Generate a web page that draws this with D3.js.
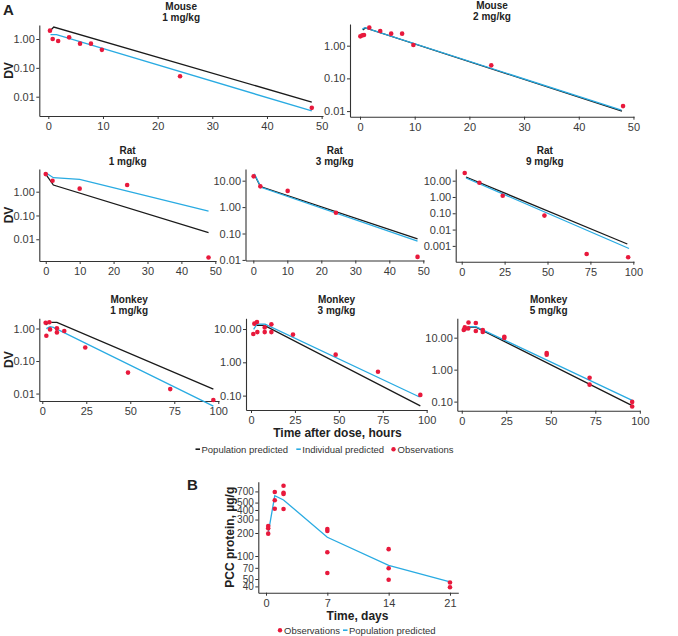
<!DOCTYPE html>
<html><head><meta charset="utf-8">
<script src="https://cdn.jsdelivr.net/npm/d3@7"></script>
<style>
body{margin:0;background:#fff}
svg{display:block}
text{font-family:"Liberation Sans",Arial,Helvetica,sans-serif}
</style>
</head><body>
<svg id="chart" width="678" height="636"></svg>
<script>
// ---------------- DATA ----------------
const species = ["Mouse","Mouse","Rat","Rat","Rat","Monkey","Monkey","Monkey"];
const doses   = ["1 mg/kg","2 mg/kg","1 mg/kg","3 mg/kg","9 mg/kg","1 mg/kg","3 mg/kg","5 mg/kg"];

// [time (h), DV]
const mouse1Obs = [[0.3,1.95],[0.8,1.0],[1.8,0.85],[3.8,1.14],[5.8,0.69],[7.8,0.69],[9.8,0.42],[24.1,0.051],[48.2,0.0041]];
const mouse1Pop = [[0.3,1.9],[1.0,2.6],[48.2,0.0065]];
const mouse1Ind = [[0.4,1.41],[1.5,1.41],[48.2,0.0032]];

const mouse2Obs = [[0.06,1.93],[0.43,2.07],[0.73,2.12],[1.7,3.56],[3.7,2.81],[5.7,2.33],[7.7,2.33],[9.76,1.05],[24.0,0.25],[48.1,0.0142]];
const mouse2Pop = [[0.5,3.0],[1.0,3.47],[47.9,0.010]];
const mouse2Ind = [[0.4,3.17],[0.85,3.55],[47.8,0.0107]];

const rat1Obs = [[0,5.5],[2,2.9],[10,1.34],[24,1.9],[48,0.0017]];
const rat1Pop = [[0,5.5],[2.25,1.9],[48,0.019]];
const rat1Ind = [[0,6.3],[2.25,3.87],[10,3.3],[48,0.154]];

const rat3Obs = [[0.1,14.6],[2.06,6.1],[10.1,4.1],[24.3,0.61],[48.3,0.013]];
const rat3Pop = [[0.3,17],[2.1,6.0],[48.3,0.063]];
const rat3Ind = [[0.3,18.3],[2.25,5.6],[48.3,0.051]];

const rat9Obs = [[1.75,29.5],[10.3,7.5],[23.9,1.2],[48.2,0.072],[72.8,0.00032],[97,0.0002]];
const rat9Pop = [[2.5,16.8],[96.5,0.0013]];
const rat9Ind = [[2.5,14.6],[97.5,0.00069]];

const monkey1Obs = [[1.9,1.51],[4.0,1.55],[2.3,0.60],[4.4,0.94],[8.3,1.01],[8.3,0.76],[12.5,0.84],[24.4,0.26],[48.7,0.044],[72.7,0.0137],[97.2,0.0063]];
const monkey1Pop = [[1.9,1.28],[4,1.55],[8.3,1.55],[97.2,0.0137]];
const monkey1Ind = [[2.3,0.99],[4.4,1.14],[6.3,1.08],[97.2,0.0041]];

const monkey3Obs = [[1.3,7.1],[1.9,14.5],[3.4,16.2],[3.6,8.1],[7.8,11.2],[7.8,8.1],[11.6,13.8],[11.6,8.1],[23.9,6.8],[48.2,1.7],[72.3,0.52],[96.4,0.105]];
const monkey3Pop = [[3,12.9],[7.6,12.9],[96.4,0.049]];
const monkey3Ind = [[1.5,9.8],[3.4,14.1],[8,14.1],[96,0.091]];

const monkey5Obs = [[1.1,17.4],[1.7,21],[1.7,19],[3.8,30],[3.6,19.5],[7.9,28.7],[7.9,16.2],[11.8,17.4],[11.8,15],[23.9,10.7],[23.9,9.8],[47.7,3.3],[47.7,2.94],[71.8,0.56],[71.8,0.34],[95.7,0.098],[95.7,0.07]];
const monkey5Pop = [[1.3,17.4],[3.8,21.5],[7.9,21.5],[95.7,0.075]];
const monkey5Ind = [[1.5,16.2],[4.1,22.1],[7.9,22.1],[95.7,0.11]];

const xTicks50  = [0,10,20,30,40,50];
const xTicks100 = [0,25,50,75,100];
const yTicksMouse  = [1,0.1,0.01];
const yTicksRat3   = [10,1,0.1,0.01];
const yTicksRat9   = [10,1,0.1,0.01,0.001];
const yTicksMonkey = [10,1,0.1];

// Panel B
const pccObsDays   = [0.25,0.25,0.25,1,1,1,2,2,2,2,7,7,7,7,14,14,14,21,21];
const pccObsValues = [247,230,196,687,536,416,832,673,648,412,226,212,112,60,123,69,49,45,39];
const pccPredDays   = [0.25,1,2,7,14,21];
const pccPredValues = [198,615,541,176,75.5,46];
const bXTicks = [0,7,14,21];
const bYTicks = [40,50,70,100,200,300,400,500,700];

// ---------------- LAYOUT ----------------
const panels = [
  {obs:mouse1Obs, pop:mouse1Pop, ind:mouse1Ind, box:[39.3,323,25,116],   xDom:[-1.65,50.25], yDom:[0.00214,3.06], xt:xTicks50,  yt:yTicksMouse, dv:true},
  {obs:mouse2Obs, pop:mouse2Pop, ind:mouse2Ind, box:[350,634,24,116.7],  xDom:[-1.83,50.1],  yDom:[0.00674,4.6],  xt:xTicks50,  yt:yTicksMouse, dv:false},
  {obs:rat1Obs,   pop:rat1Pop,   ind:rat1Ind,   box:[39.3,216,169,261],  xDom:[-1.9,50.2],   yDom:[0.00122,9.0],  xt:xTicks50,  yt:yTicksMouse, dv:true},
  {obs:rat3Obs,   pop:rat3Pop,   ind:rat3Ind,   box:[245.5,424,169,260.5],xDom:[-2.3,50.2],  yDom:[0.0095,27.7],  xt:xTicks50,  yt:yTicksRat3,  dv:false},
  {obs:rat9Obs,   pop:rat9Pop,   ind:rat9Ind,   box:[455.7,634,169,261.7],xDom:[-3.5,100.4], yDom:[0.000107,52],  xt:xTicks100, yt:yTicksRat9,  dv:false},
  {obs:monkey1Obs,pop:monkey1Pop,ind:monkey1Ind,box:[39.3,219,318.3,401],xDom:[-1.7,100.4],  yDom:[0.0059,2.06],  xt:xTicks100, yt:yTicksMouse, dv:true},
  {obs:monkey3Obs,pop:monkey3Pop,ind:monkey3Ind,box:[246,427,318.3,410], xDom:[-2.85,100.2], yDom:[0.037,21],     xt:xTicks100, yt:yTicksMonkey,dv:false},
  {obs:monkey5Obs,pop:monkey5Pop,ind:monkey5Ind,box:[457.3,640,318.3,410.7],xDom:[-2.5,100.1],yDom:[0.052,40.4], xt:xTicks100, yt:yTicksMonkey,dv:false}
];

const RED = "#e8193c", BLUE = "#29abe2", BLACK = "#1a1a1a", AXIS = "#333";
const svg = d3.select("#chart");

function fmtDV(v){ return v >= 0.01 ? v.toFixed(2) : v.toFixed(3); }

function styleAxis(sel, fs){
  sel.select(".domain").attr("stroke", AXIS).attr("stroke-width", 1.1);
  sel.selectAll(".tick line").attr("stroke", AXIS).attr("stroke-width", 1);
  sel.selectAll(".tick text").attr("fill", "#3a3a3a").attr("font-size", fs)
     .attr("font-family", '"Liberation Sans",Arial,sans-serif');
}

panels.forEach((p, i) => {
  const [l, r, t, b] = p.box;
  const x = d3.scaleLinear().domain(p.xDom).range([l, r]);
  const y = d3.scaleLog().domain(p.yDom).range([b, t]);
  const g = svg.append("g");

  const gx = g.append("g").attr("transform", `translate(0,${b})`)
    .call(d3.axisBottom(x).tickValues(p.xt).tickSize(3).tickSizeOuter(0).tickPadding(3.5).tickFormat(d3.format("d")));
  styleAxis(gx, 11);
  const gy = g.append("g").attr("transform", `translate(${l},0)`)
    .call(d3.axisLeft(y).tickValues(p.yt).tickSize(3).tickSizeOuter(0).tickPadding(1.5).tickFormat(fmtDV));
  styleAxis(gy, 11);

  const line = d3.line().x(d => x(d[0])).y(d => y(d[1]));
  g.append("path").datum(p.pop).attr("d", line).attr("fill","none").attr("stroke",BLACK).attr("stroke-width",1.3);
  g.append("path").datum(p.ind).attr("d", line).attr("fill","none").attr("stroke",BLUE).attr("stroke-width",1.3);
  g.selectAll("circle").data(p.obs).join("circle")
    .attr("cx", d => x(d[0])).attr("cy", d => y(d[1])).attr("r", 2.3).attr("fill", RED);

  const cx = (l + r) / 2;
  g.append("text").attr("x", cx).attr("y", t - 15.5).attr("text-anchor","middle")
    .attr("font-size",10).attr("font-weight","bold").attr("fill","#222").text(species[i]);
  g.append("text").attr("x", cx).attr("y", t - 4).attr("text-anchor","middle")
    .attr("font-size",10).attr("font-weight","bold").attr("fill","#222").text(doses[i]);

  if (p.dv) {
    g.append("text").attr("transform", `translate(12.5,${(t+b)/2}) rotate(-90)`)
      .attr("text-anchor","middle").attr("font-size",12).attr("font-weight","bold").attr("fill","#222").text("DV");
  }
});

// Panel labels
svg.append("text").attr("x",3).attr("y",15).attr("font-size",15).attr("font-weight","bold").attr("fill","#222").text("A");
svg.append("text").attr("x",187).attr("y",490).attr("font-size",15).attr("font-weight","bold").attr("fill","#222").text("B");

// Panel A x title & legend
svg.append("text").attr("x",337.5).attr("y",436.5).attr("text-anchor","middle")
  .attr("font-size",12).attr("font-weight","bold").attr("fill","#222").text("Time after dose, hours");

function legend(items, y){
  items.forEach(it => {
    if (it.type === "line") {
      svg.append("line").attr("x1", it.x).attr("x2", it.x + 4.5).attr("y1", y - 3.3).attr("y2", y - 3.3)
        .attr("stroke", it.color).attr("stroke-width", 1.6);
      svg.append("text").attr("x", it.x + 6).attr("y", y).attr("font-size", 9.5).attr("fill","#333").text(it.label);
    } else {
      svg.append("circle").attr("cx", it.x + 2).attr("cy", y - 3.3).attr("r", 2.2).attr("fill", it.color);
      svg.append("text").attr("x", it.x + 6).attr("y", y).attr("font-size", 9.5).attr("fill","#333").text(it.label);
    }
  });
}
legend([
  {type:"line", color:BLACK, x:195.5, label:"Population predicted"},
  {type:"line", color:BLUE,  x:296.3, label:"Individual predicted"},
  {type:"dot",  color:RED,   x:391.5, label:"Observations"}
], 452.5);

// ---------------- PANEL B ----------------
(function(){
  const l = 258.3, r = 458.3, t = 481.7, b = 592.7;
  const x = d3.scaleLinear().domain([-0.88, 21.95]).range([l, r]);
  const y = d3.scaleLog().domain([33.1, 938]).range([b, t]);
  const g = svg.append("g");
  const gx = g.append("g").attr("transform", `translate(0,${b})`)
    .call(d3.axisBottom(x).tickValues(bXTicks).tickSize(3).tickSizeOuter(0).tickPadding(3.5).tickFormat(d3.format("d")));
  styleAxis(gx, 11);
  const gy = g.append("g").attr("transform", `translate(${l},0)`)
    .call(d3.axisLeft(y).tickValues(bYTicks).tickSize(3).tickSizeOuter(0).tickPadding(1.5).tickFormat(d3.format("d")));
  styleAxis(gy, 10);

  const pred = pccPredDays.map((d, i) => [d, pccPredValues[i]]);
  g.append("path").datum(pred)
    .attr("d", d3.line().x(d => x(d[0])).y(d => y(d[1])))
    .attr("fill","none").attr("stroke",BLUE).attr("stroke-width",1.3);
  const obs = pccObsDays.map((d, i) => [d, pccObsValues[i]]);
  g.selectAll("circle").data(obs).join("circle")
    .attr("cx", d => x(d[0])).attr("cy", d => y(d[1])).attr("r", 2.3).attr("fill", RED);

  g.append("text").attr("x", 357.5).attr("y", 619.5).attr("text-anchor","middle")
    .attr("font-size",12).attr("font-weight","bold").attr("fill","#222").text("Time, days");
  g.append("text").attr("transform", `translate(234,${(t+b)/2}) rotate(-90)`).attr("text-anchor","middle")
    .attr("font-size",12).attr("font-weight","bold").attr("fill","#222").text("PCC protein, µg/g");

  legend([
    {type:"dot",  color:RED,  x:278, label:"Observations"},
    {type:"line", color:BLUE, x:343, label:"Population predicted"}
  ], 633.5);
})();
</script>
</body></html>
